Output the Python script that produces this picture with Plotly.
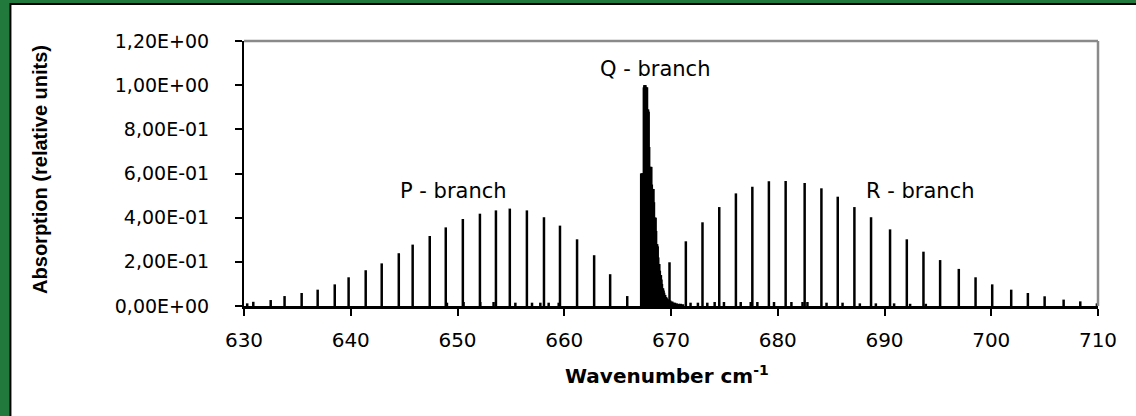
import plotly.graph_objects as go

# ---------------- data ----------------
p_x = [630.87, 632.50, 633.80, 635.40, 636.90, 638.50, 639.80, 641.40, 642.90, 644.50,
       645.80, 647.40, 648.90, 650.50, 652.10, 653.60, 654.90, 656.50, 658.10, 659.60,
       661.20, 662.80, 664.30, 665.90]
p_y = [0.019, 0.027, 0.045, 0.059, 0.074, 0.098, 0.130, 0.162, 0.193, 0.239,
       0.278, 0.317, 0.356, 0.394, 0.418, 0.433, 0.441, 0.433, 0.402, 0.364,
       0.302, 0.230, 0.144, 0.045]

q_x = [667.23, 667.28, 667.33, 667.38, 667.43, 667.48, 667.53, 667.58, 667.63, 667.68,
       667.73, 667.78, 667.83, 667.88, 667.93, 667.98, 668.03, 668.08, 668.13, 668.18,
       668.23, 668.28, 668.33, 668.38, 668.43, 668.48, 668.53, 668.58, 668.63, 668.68,
       668.73, 668.78, 668.83, 668.88, 668.93, 668.98, 669.03, 669.08, 669.13, 669.18,
       669.23, 669.28, 669.33, 669.38, 669.43, 669.48, 669.53, 669.58, 669.63, 669.70,
       669.80, 669.90, 670.00, 670.10, 670.20, 670.35, 670.50, 670.70, 670.90, 671.10]
q_y = [0.60, 0.60, 0.60, 0.60, 0.60, 0.99, 1.00, 1.00, 0.99, 0.99,
       0.99, 0.89, 0.89, 0.88, 0.72, 0.63, 0.63, 0.63, 0.63, 0.55,
       0.53, 0.53, 0.53, 0.47, 0.40, 0.40, 0.40, 0.34, 0.28, 0.28,
       0.27, 0.22, 0.19, 0.19, 0.16, 0.14, 0.14, 0.12, 0.10, 0.08,
       0.08, 0.07, 0.06, 0.05, 0.05, 0.04, 0.04, 0.035, 0.03, 0.03,
       0.025, 0.025, 0.02, 0.02, 0.015, 0.015, 0.012, 0.010, 0.010, 0.008]

r_x = [669.86, 671.39, 672.95, 674.52, 676.08, 677.62, 679.17, 680.74, 682.52, 684.09,
       685.62, 687.18, 688.74, 690.52, 692.09, 693.65, 695.21, 696.96, 698.53, 700.09,
       701.87, 703.43, 705.00, 706.78, 708.34]
r_y = [0.198, 0.293, 0.379, 0.448, 0.510, 0.540, 0.565, 0.566, 0.557, 0.533,
       0.495, 0.448, 0.402, 0.347, 0.302, 0.246, 0.208, 0.168, 0.130, 0.098,
       0.074, 0.059, 0.044, 0.029, 0.021]

hot_x = [630.30, 649.01, 650.57, 652.13, 653.38, 655.42, 656.98, 657.76, 658.54, 659.48,
         671.83, 672.52, 673.40, 674.09, 674.96, 676.53, 677.47, 678.09, 679.65, 681.28,
         682.32, 682.78, 684.57, 686.07, 687.69, 689.19, 690.90, 692.40, 693.87, 709.90]
hot_y = [0.012, 0.015, 0.018, 0.018, 0.018, 0.015, 0.015, 0.015, 0.015, 0.015,
         0.015, 0.015, 0.015, 0.018, 0.018, 0.018, 0.018, 0.018, 0.018, 0.018,
         0.018, 0.018, 0.015, 0.015, 0.012, 0.012, 0.012, 0.010, 0.010, 0.012]

y_ticks = [0.0, 0.2, 0.4, 0.6, 0.8, 1.0, 1.2]
y_ticktext = ["0,00E+00", "2,00E-01", "4,00E-01", "6,00E-01", "8,00E-01", "1,00E+00", "1,20E+00"]
x_ticks = [630, 640, 650, 660, 670, 680, 690, 700, 710]
x_ticktext = ["630", "640", "650", "660", "670", "680", "690", "700", "710"]

branch_labels = ["P - branch", "Q - branch", "R - branch"]
branch_x = [649.6, 668.5, 693.4]
branch_y = [0.52, 1.075, 0.52]


def sticks(xs, ys):
    sx, sy = [], []
    for xv, yv in zip(xs, ys):
        sx += [xv, xv, None]
        sy += [0, yv, None]
    return sx, sy


fig = go.Figure()
for xs, ys, w in [(hot_x, hot_y, 2.5), (p_x, p_y, 2.5), (q_x, q_y, 3), (r_x, r_y, 2.5)]:
    sx, sy = sticks(xs, ys)
    fig.add_trace(go.Scatter(x=sx, y=sy, mode="lines",
                             line=dict(color="black", width=w),
                             hoverinfo="skip", showlegend=False, cliponaxis=False))

GREEN = "#217a3c"
fig.update_layout(
    width=1136, height=416,
    margin=dict(l=244, r=38, t=41, b=110),
    paper_bgcolor=GREEN,
    plot_bgcolor="white",
    showlegend=False,
    font=dict(family="DejaVu Sans", size=19, color="black"),
    xaxis=dict(range=[630, 710], tickvals=x_ticks, ticktext=x_ticktext,
               showgrid=False, zeroline=False, showline=True, linecolor="black",
               linewidth=3, ticks="outside", ticklen=7, tickwidth=1.5, tickcolor="black",
               ticklabelstandoff=7, tickfont=dict(family="DejaVu Sans", size=20)),
    yaxis=dict(range=[0, 1.2], tickvals=y_ticks, ticktext=y_ticktext,
               showgrid=False, zeroline=False, showline=True, linecolor="black",
               linewidth=2, ticks="outside", ticklen=7, tickwidth=1.5, tickcolor="black",
               ticklabelstandoff=22, tickfont=dict(family="DejaVu Sans", size=19)),
)

# white panel with thin black edge behind the chart
fig.add_shape(type="rect", xref="paper", yref="paper",
              x0=-0.2735, x1=1.1, y0=-0.6, y1=1.14,
              fillcolor="white", line=dict(color="black", width=2), layer="below")
# grey frame on top and right of plot area
fig.add_shape(type="line", xref="paper", yref="paper", x0=0, x1=1, y0=1, y1=1,
              line=dict(color="#8a8a8a", width=2.5))
fig.add_shape(type="line", xref="paper", yref="paper", x0=1, x1=1, y0=0, y1=1,
              line=dict(color="#8a8a8a", width=2.5))

for t, xv, yv in zip(branch_labels, branch_x, branch_y):
    fig.add_annotation(x=xv, y=yv, xref="x", yref="y", text=t, showarrow=False,
                       font=dict(family="DejaVu Sans", size=21, color="black"))

fig.add_annotation(x=0.495, y=-0.26, xref="paper", yref="paper",
                   xanchor="center", yanchor="middle",
                   text="<b>Wavenumber cm<sup>-1</sup></b>", showarrow=False,
                   font=dict(family="DejaVu Sans", size=20, color="black"))
fig.add_annotation(x=-0.239, y=0.517, xref="paper", yref="paper",
                   xanchor="center", yanchor="middle",
                   text="<b>Absorption (relative units)</b>", showarrow=False,
                   textangle=-90,
                   font=dict(family="Liberation Sans", size=20, color="black"))

fig.write_html("out.html")
